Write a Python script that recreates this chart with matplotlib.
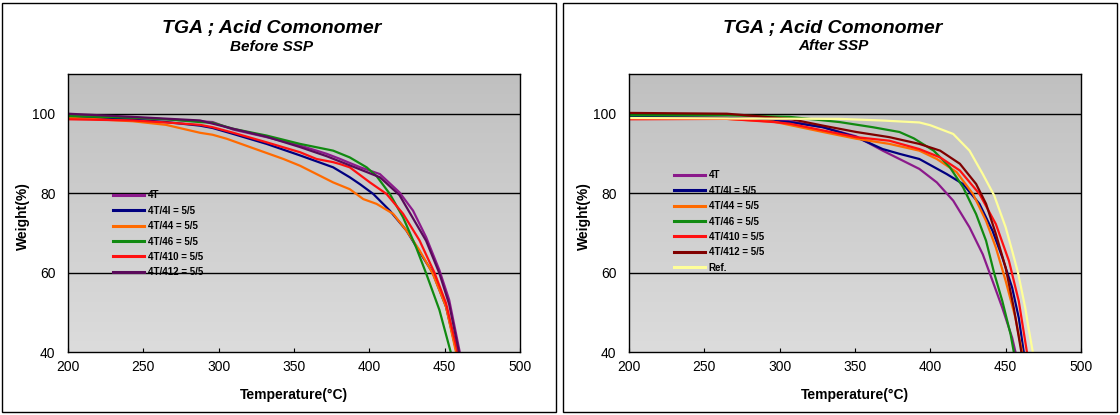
import numpy as np
import matplotlib
matplotlib.use('Agg')
import matplotlib.pyplot as plt
from matplotlib.colors import LinearSegmentedColormap
from matplotlib.patches import Rectangle

plt.rcParams['font.family'] = ['Liberation Sans', 'DejaVu Sans']

# ---- data (temperature C, weight %) ----
before_labels = ['4T', '4T/4I = 5/5', '4T/44 = 5/5', '4T/46 = 5/5', '4T/410 = 5/5', '4T/412 = 5/5']
before_colors = ['#8B1A8B', '#000080', '#FF6A00', '#118A11', '#FF1010', '#5A0A5A']

b_4T_t = [200, 243, 265, 287.6, 296, 309.7, 331.8, 354, 371.7, 380, 387, 394, 407, 420, 429, 437.7, 446.5, 453, 460]
b_4T_w = [99.6, 98.9, 98.6, 98.1, 97.9, 96.0, 94.1, 92.0, 89.9, 88.7, 87.6, 86.5, 84.8, 80.2, 75.6, 68.9, 60.6, 53.1, 40]
b_4I_t = [200, 243, 265, 287.6, 296, 309.7, 331.8, 354, 376, 387, 394, 402.6, 413.6, 424.6, 435.5, 442, 450.9, 457.9]
b_4I_w = [99.2, 98.5, 97.9, 97.0, 96.4, 94.9, 92.4, 89.5, 86.5, 84.0, 82.2, 79.8, 75.6, 70.6, 63.9, 60.0, 51.4, 40]
b_44_t = [200, 243, 265, 287.6, 296, 305.3, 320.8, 343, 354, 376, 387, 396, 404.8, 415.8, 424.6, 433.3, 442, 450.9, 457.5]
b_44_w = [99.0, 98.1, 97.2, 95.2, 94.7, 93.7, 91.6, 88.6, 86.9, 82.7, 81.0, 78.5, 77.3, 74.8, 70.6, 65.6, 59.8, 51.4, 40]
b_46_t = [200, 243, 265, 287.6, 296, 309.7, 331.8, 354, 376, 387, 398.2, 404.8, 413.6, 422.4, 431, 437.7, 446.5, 454]
b_46_w = [99.4, 99.0, 98.6, 97.9, 97.7, 96.2, 94.5, 92.4, 90.7, 89.0, 86.5, 84.3, 79.8, 73.9, 66.4, 59.8, 50.6, 40]
b_410_t = [200, 243, 265, 287.6, 296, 309.7, 331.8, 354, 365, 376, 380.7, 387, 400.4, 411.4, 422.4, 433.3, 443.2, 450.9, 458.6]
b_410_w = [98.6, 98.3, 97.8, 97.2, 96.6, 95.2, 92.8, 90.3, 88.6, 87.8, 87.3, 86.5, 82.7, 79.8, 74.8, 68.1, 60.0, 52.3, 40]
b_412_t = [200, 243, 287.6, 309.7, 331.8, 354, 371.7, 387, 407, 420, 437.7, 446.5, 453, 459.5]
b_412_w = [100.0, 99.2, 98.3, 96.2, 94.2, 91.6, 89.3, 87.0, 84.0, 79.5, 68.0, 59.8, 52.0, 40]

after_labels = ['4T', '4T/4I = 5/5', '4T/44 = 5/5', '4T/46 = 5/5', '4T/410 = 5/5', '4T/412 = 5/5', 'Ref.']
after_colors = ['#8B1A8B', '#000080', '#FF6A00', '#118A11', '#FF1010', '#800000', '#FFFF99']

a_4T_t = [200, 265, 296, 306.6, 328.7, 350.8, 368.4, 379.5, 392.7, 404.3, 415.2, 426, 434.8, 441.3, 447.8, 454.3, 456.5]
a_4T_w = [99.2, 99.0, 98.6, 98.1, 96.6, 94.3, 90.7, 88.6, 86.1, 82.7, 78.1, 71.4, 64.6, 57.9, 51.1, 43.6, 40]
a_4I_t = [200, 265, 306.6, 328.7, 350.8, 368.4, 379.5, 392.7, 410.9, 421.7, 432.6, 441.3, 447.8, 454.3, 458.7, 462]
a_4I_w = [99.2, 98.9, 97.9, 96.6, 94.1, 91.1, 89.9, 88.6, 84.8, 82.3, 77.3, 70.5, 63.8, 56.2, 48.6, 40]
a_44_t = [200, 265, 296, 328.7, 350.8, 372.8, 392.7, 404.3, 417.4, 428.3, 437, 443.5, 450, 456.5, 460.9]
a_44_w = [98.9, 98.7, 98.0, 95.4, 93.7, 92.4, 90.7, 88.6, 85.3, 79.8, 73.0, 66.3, 57.9, 48.6, 40]
a_46_t = [200, 265, 306.6, 339.7, 361.8, 379.5, 389, 402.2, 413, 421.7, 430.4, 437, 442.4, 447.8, 453.3, 455.4]
a_46_w = [99.6, 99.6, 99.2, 97.9, 96.6, 95.4, 93.8, 90.7, 86.5, 81.5, 74.7, 68.0, 59.8, 52.8, 44.4, 40]
a_410_t = [200, 265, 296, 306.6, 328.7, 350.8, 372.8, 392.7, 406.5, 419.6, 432.6, 443.5, 452.2, 458.7, 464.1]
a_410_w = [98.6, 98.7, 97.9, 97.5, 95.8, 94.1, 93.2, 91.1, 89.0, 85.7, 79.8, 72.2, 62.9, 52.8, 40]
a_412_t = [200, 265, 306.6, 328.7, 350.8, 372.8, 392.7, 406.5, 419.6, 430.4, 437, 443.5, 450, 455.4, 460.4]
a_412_w = [100.2, 100.0, 98.7, 97.0, 95.4, 94.1, 92.4, 90.7, 87.4, 82.3, 77.3, 69.7, 61.2, 51.1, 40]
a_ref_t = [200, 265, 339.7, 367.4, 392.7, 400, 415.2, 426, 434.8, 442.4, 450, 454.3, 458.3, 463, 465.2, 468]
a_ref_w = [98.9, 98.8, 98.7, 98.3, 97.8, 97.1, 94.9, 90.7, 84.8, 79.4, 71.4, 65.5, 59.8, 51.1, 46.0, 40]

x_ticks = [200, 250, 300, 350, 400, 450, 500]
y_ticks = [40, 60, 80, 100]

bg_cmap = LinearSegmentedColormap.from_list('bg', ['#DCDCDC', '#C0C0C0'])


def draw_panel(ax, series, labels, colors, leg_y):
    # grey gradient plot area
    grad = np.linspace(0, 1, 256).reshape(-1, 1)
    ax.imshow(grad, cmap=bg_cmap, extent=[0, 1, 0, 1], transform=ax.transAxes,
              aspect='auto', origin='lower', zorder=0)
    for y in [60, 80, 100]:
        ax.axhline(y, color='black', lw=1, zorder=1)
    for (t, w), lab, c in zip(series, labels, colors):
        ax.plot(t, w, color=c, lw=1.6, label=lab, zorder=2, solid_joinstyle='round')
    ax.set_xlim(200, 500)
    ax.set_ylim(40, 110)
    ax.set_xticks(x_ticks)
    ax.set_yticks(y_ticks)
    ax.tick_params(axis='x', direction='in', length=3, labelsize=10, pad=6)
    ax.tick_params(axis='y', length=0, labelsize=10, pad=9)
    for s in ax.spines.values():
        s.set_linewidth(1)
    ax.set_xlabel('Temperature(°C)', fontsize=10, fontweight='bold', labelpad=10)
    ax.set_ylabel('Weight(%)', fontsize=10, fontweight='bold')
    ax.yaxis.set_label_coords(-0.083, 0.49)
    leg = ax.legend(loc='upper left', bbox_to_anchor=(0.09, leg_y), frameon=False,
                    handlelength=3.2, handletextpad=0.4, labelspacing=0.55,
                    prop={'size': 7, 'weight': 'bold'}, borderaxespad=0)
    for h in leg.get_lines():
        h.set_linewidth(2.2)


fig = plt.figure(figsize=(11.2, 4.15), dpi=100)

# panel frames
fig.patches.append(Rectangle((2 / 1120, 3 / 415), 554 / 1120, 409 / 415, transform=fig.transFigure,
                             fill=False, edgecolor='black', lw=1))
fig.patches.append(Rectangle((563 / 1120, 3 / 415), 554 / 1120, 409 / 415, transform=fig.transFigure,
                             fill=False, edgecolor='black', lw=1))

ax1 = fig.add_axes([68 / 1120, 1 - 352 / 415, 452 / 1120, 278 / 415])
before = [(b_4T_t, b_4T_w), (b_4I_t, b_4I_w), (b_44_t, b_44_w), (b_46_t, b_46_w),
          (b_410_t, b_410_w), (b_412_t, b_412_w)]
draw_panel(ax1, before, before_labels, before_colors, 0.595)

ax2 = fig.add_axes([629 / 1120, 1 - 352 / 415, 452 / 1120, 278 / 415])
after = [(a_4T_t, a_4T_w), (a_4I_t, a_4I_w), (a_44_t, a_44_w), (a_46_t, a_46_w),
         (a_410_t, a_410_w), (a_412_t, a_412_w), (a_ref_t, a_ref_w)]
draw_panel(ax2, after, after_labels, after_colors, 0.667)

# titles
fig.text(272 / 1120, 1 - 28 / 415, 'TGA ; Acid Comonomer', ha='center', va='center',
         fontsize=14, fontweight='bold', style='italic')
fig.text(272 / 1120, 1 - 47 / 415, 'Before SSP', ha='center', va='center',
         fontsize=11, fontweight='bold', style='italic')
fig.text(833 / 1120, 1 - 28 / 415, 'TGA ; Acid Comonomer', ha='center', va='center',
         fontsize=14, fontweight='bold', style='italic')
fig.text(833 / 1120, 1 - 46 / 415, 'After SSP', ha='center', va='center',
         fontsize=11, fontweight='bold', style='italic')

fig.savefig('out.png', dpi=100)
